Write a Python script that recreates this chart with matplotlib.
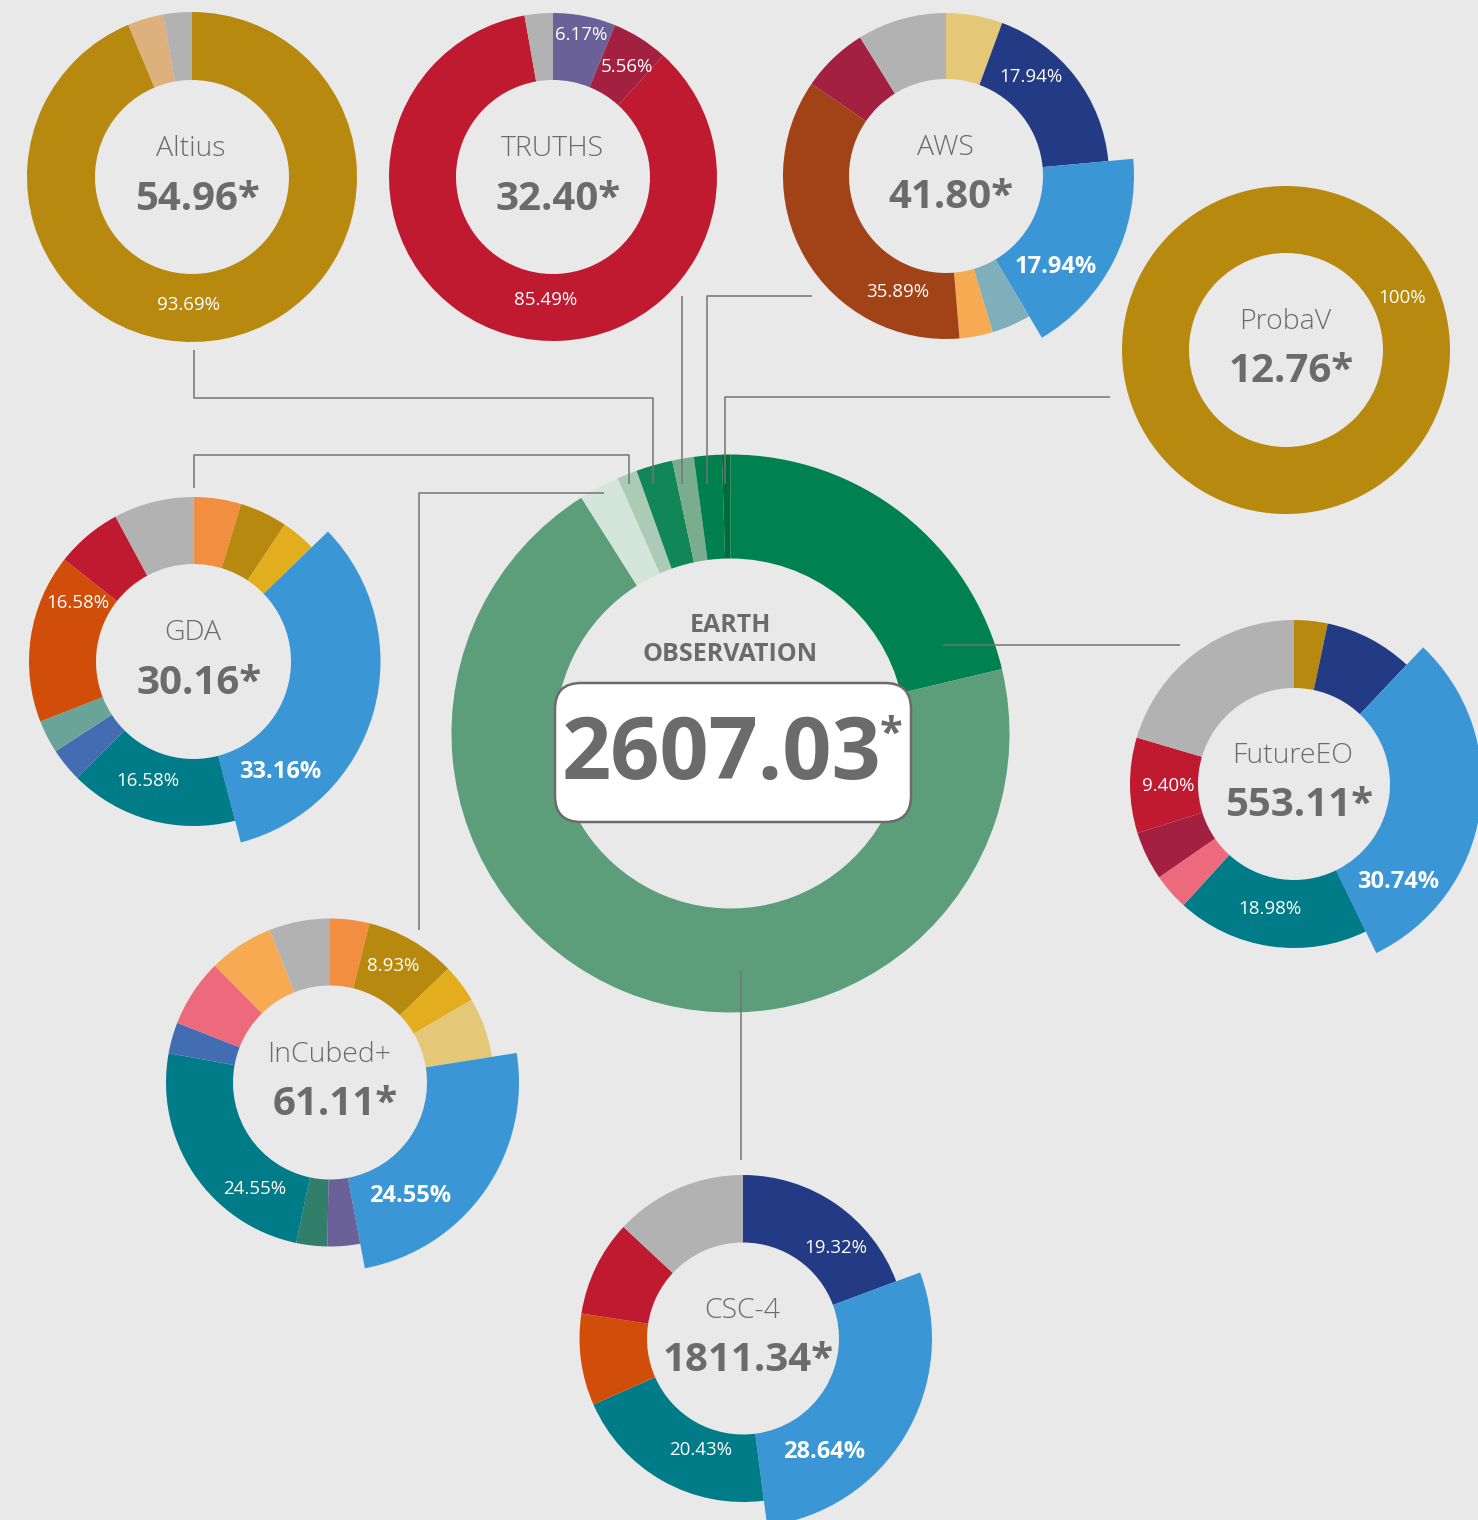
# Earth observation budget donuts: one central ring plus one ring per programme.
import matplotlib
matplotlib.use('Agg')
import matplotlib.pyplot as plt
from matplotlib.patches import FancyBboxPatch

W, H = 1478, 1520
BG = '#E9E9E9'
INK = '#6B6B6B'
LINE = '#747474'
plt.rcParams['font.family'] = ['Open Sans', 'DejaVu Sans']

# ---- data ---------------------------------------------------------------
EO_TITLE = 'EARTH\nOBSERVATION'
EO_TOTAL = '2607.03'
EO_NAMES = ['FutureEO', 'CSC-4', 'InCubed+', 'GDA', 'Altius', 'TRUTHS', 'AWS', 'ProbaV']
EO_VALUES = [553.11, 1811.34, 61.11, 30.16, 54.96, 32.40, 41.80, 12.76]

ALTIUS_SHARES = [93.69, 3.50, 2.81]
TRUTHS_SHARES = [6.17, 5.56, 85.49, 2.78]
AWS_SHARES = [5.60, 17.94, 17.94, 3.90, 3.30, 35.89, 6.60, 8.83]
PROBAV_SHARES = [100]
GDA_SHARES = [4.67, 4.70, 3.40, 33.16, 16.58, 3.30, 3.25, 16.58, 6.50, 7.86]
FUTUREEO_SHARES = [3.30, 8.75, 30.74, 18.98, 3.60, 4.80, 9.40, 20.43]
INCUBED_SHARES = [3.87, 8.93, 3.80, 5.90, 24.55, 3.20, 3.06, 24.55, 3.06, 6.70, 6.40, 5.98]
CSC4_SHARES = [19.32, 28.64, 20.43, 9.06, 9.50, 13.05]

# ---- colours ------------------------------------------------------------
GOLD, TAN, GREY = '#B8890F', '#DDB07C', '#B2B2B2'
PURPLE, WINE, RED = '#6A6199', '#A32040', '#C01A31'
SAND, NAVY, BLUE = '#E4C878', '#233A85', '#3A96D4'
ICE, APRICOT, BROWN = '#7FAFBA', '#F6AA51', '#A24217'
ORANGE, YELLOW, TEAL = '#F28E3F', '#E2AE1E', '#007C89'
COBALT, SAGE, RUST = '#426DB3', '#6AA397', '#D14D0A'
PINK, PINE = '#EC6A7C', '#317E6A'

EO_COLORS = ['#008152', '#5C9E7A', '#D4E5DA', '#ABCBB7', '#118657', '#79AD8D', '#00804F', '#006C3A']

# ---- layout (pixel coords, y down) --------------------------------------
# name, value text, shares, colours, centre, R, r, popped slice, popped R, labels (slice, x, y, bold)
charts = [
    dict(name='Altius', value='54.96*', shares=ALTIUS_SHARES, colors=[GOLD, TAN, GREY],
         c=(192, 177), R=165, r=97, pop=None,
         labels=[(0, 188, 305, False)]),
    dict(name='TRUTHS', value='32.40*', shares=TRUTHS_SHARES, colors=[PURPLE, WINE, RED, GREY],
         c=(553, 177), R=164, r=97, pop=None,
         labels=[(0, 581, 35, False), (1, 627, 67, False), (2, 546, 300, False)]),
    dict(name='AWS', value='41.80*', shares=AWS_SHARES,
         colors=[SAND, NAVY, BLUE, ICE, APRICOT, BROWN, WINE, GREY],
         c=(946, 176), R=163, r=97, pop=2, Rp=188,
         labels=[(1, 1031, 77, False), (2, 1056, 267, True), (5, 898, 292, False)]),
    dict(name='ProbaV', value='12.76*', shares=PROBAV_SHARES, colors=[GOLD],
         c=(1286, 350), R=164, r=97, pop=None,
         labels=[(0, 1402, 298, False)]),
    dict(name='GDA', value='30.16*', shares=GDA_SHARES,
         colors=[ORANGE, GOLD, YELLOW, BLUE, TEAL, COBALT, SAGE, RUST, RED, GREY],
         c=(193.5, 661.5), R=164.5, r=97.5, pop=3, Rp=187,
         labels=[(7, 78, 603, False), (4, 148, 781, False), (3, 280, 772, True)]),
    dict(name='FutureEO', value='553.11*', shares=FUTUREEO_SHARES,
         colors=[GOLD, NAVY, BLUE, TEAL, PINK, WINE, RED, GREY],
         c=(1294, 784), R=164, r=96, pop=2, Rp=188,
         labels=[(6, 1168, 786, False), (3, 1270, 909, False), (2, 1398, 882, True)]),
    dict(name='InCubed+', value='61.11*', shares=INCUBED_SHARES,
         colors=[ORANGE, GOLD, YELLOW, SAND, BLUE, PURPLE, PINE, TEAL, COBALT, PINK, APRICOT, GREY],
         c=(330, 1082.5), R=164, r=97, pop=4, Rp=189,
         labels=[(1, 393, 966, False), (7, 255, 1189, False), (4, 410, 1196, True)]),
    dict(name='CSC-4', value='1811.34*', shares=CSC4_SHARES,
         colors=[NAVY, BLUE, TEAL, RUST, RED, GREY],
         c=(743, 1338.5), R=163.5, r=96, pop=1, Rp=189,
         labels=[(0, 836, 1248, False), (2, 701, 1450, False), (1, 824, 1452, True)]),
]

leaders = [
    [(194, 350), (194, 398), (653, 398), (653, 484)],
    [(682, 296), (682, 484)],
    [(812, 296), (707, 296), (707, 484)],
    [(1110, 397), (725, 397), (725, 484)],
    [(194, 488), (194, 455), (629, 455), (629, 484)],
    [(604, 493), (419, 493), (419, 930)],
    [(943, 645), (1180, 645)],
    [(741, 971), (741, 1160)],
]

fig = plt.figure(figsize=(W / 100, H / 100), dpi=100, facecolor=BG)
ax = fig.add_axes([0, 0, 1, 1])
ax.set_facecolor(BG)


def pct(v):
    return f'{v:g}%' if float(v).is_integer() else f'{v:.2f}%'


def donut(cx, cy, R, r, shares, colors, pop=None, Rp=None):
    wedges, _ = ax.pie(shares, colors=colors, radius=R, center=(cx, H - cy),
                       startangle=90, counterclock=False, normalize=True,
                       wedgeprops=dict(width=R - r, linewidth=0))
    if pop is not None:
        wedges[pop].set_radius(Rp)
        wedges[pop].set_width(Rp - r)
    return wedges


# central ring
donut(730.5, 733.5, 279, 175, EO_VALUES, EO_COLORS)

for ch in charts:
    cx, cy = ch['c']
    donut(cx, cy, ch['R'], ch['r'], ch['shares'], ch['colors'], ch['pop'], ch.get('Rp'))
    ax.text(cx - 1, H - (cy - 28), ch['name'], ha='center', va='center',
            fontsize=20.5, fontweight='light', color=INK, zorder=5)
    ax.text(cx + 5, H - (cy + 22), ch['value'], ha='center', va='center',
            fontsize=29, fontweight='bold', color=INK, zorder=5)
    for idx, lx, ly, bold in ch['labels']:
        ax.text(lx, H - ly, pct(ch['shares'][idx]), ha='center', va='center',
                fontsize=17 if bold else 13.5, fontweight='bold' if bold else 'normal',
                color='white', zorder=5)

for pts in leaders:
    xs = [p[0] for p in pts]
    ys = [H - p[1] for p in pts]
    ax.plot(xs, ys, color=LINE, lw=1.1, solid_capstyle='butt', zorder=3)

# centre caption and total
ax.text(730, H - 640, EO_TITLE, ha='center', va='center', fontsize=18,
        fontweight='bold', color=INK, linespacing=1.25, zorder=5)
box = FancyBboxPatch((555, H - 822), 356, 139, boxstyle='round,pad=0,rounding_size=26',
                     fc='white', ec=INK, lw=1.8, zorder=4)
ax.add_patch(box)
ax.text(722, H - 757, EO_TOTAL, ha='center', va='center', fontsize=62,
        fontweight='bold', color=INK, zorder=5)
ax.text(891, H - 735, '*', ha='center', va='center', fontsize=30,
        fontweight='bold', color=INK, zorder=5)

ax.set_xlim(0, W)
ax.set_ylim(0, H)
ax.set_aspect('equal')
ax.axis('off')
fig.savefig('out.png', dpi=100, facecolor=BG)
